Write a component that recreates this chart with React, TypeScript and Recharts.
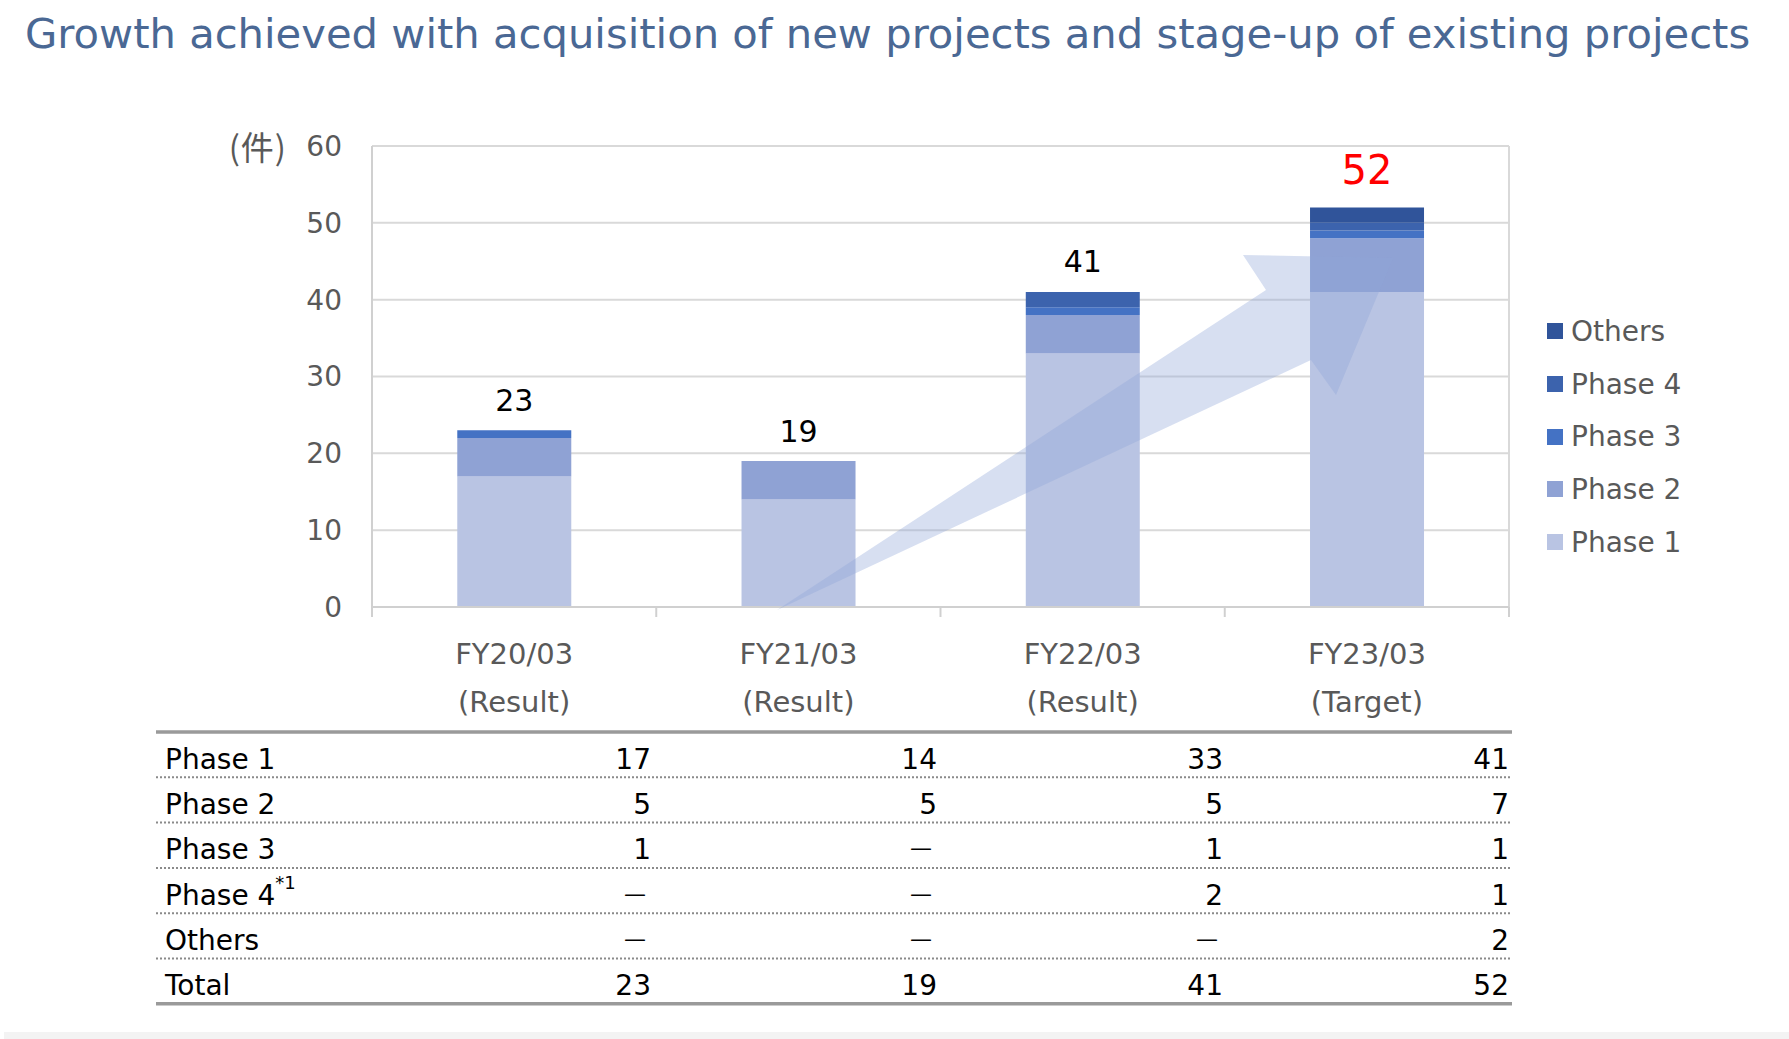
import React from 'react';
import { BarChart, Bar, XAxis, YAxis, CartesianGrid, Legend, LabelList } from 'recharts';

// ---------- data ----------
const categories = ['FY20/03', 'FY21/03', 'FY22/03', 'FY23/03'];
const periodLabels = ['(Result)', '(Result)', '(Result)', '(Target)'];
const phase1 = [17, 14, 33, 41];
const phase2 = [5, 5, 5, 7];
const phase3 = [1, 0, 1, 1];
const phase4 = [0, 0, 2, 1];
const others = [0, 0, 0, 2];
const totals = [23, 19, 41, 52];
const yTicks = [0, 10, 20, 30, 40, 50, 60];

const series = [
  { key: 'phase1', name: 'Phase 1', values: phase1, color: '#b9c4e3' },
  { key: 'phase2', name: 'Phase 2', values: phase2, color: '#8fa2d4' },
  { key: 'phase3', name: 'Phase 3', values: phase3, color: '#4472c4' },
  { key: 'phase4', name: 'Phase 4', values: phase4, color: '#3c63ad' },
  { key: 'others', name: 'Others', values: others, color: '#30549a' },
];

const tableRows = [
  { label: 'Phase 1', sup: '', values: phase1 },
  { label: 'Phase 2', sup: '', values: phase2 },
  { label: 'Phase 3', sup: '', values: phase3 },
  { label: 'Phase 4', sup: '*1', values: phase4 },
  { label: 'Others', sup: '', values: others },
  { label: 'Total', sup: '', values: totals },
];

const data = categories.map((c, i) => {
  const row: any = { category: c, period: periodLabels[i], total: totals[i] };
  series.forEach((s) => (row[s.key] = s.values[i]));
  return row;
});

// topmost non-empty series per category (where the total label sits)
const topSeriesIndex = categories.map((_, i) => {
  let top = 0;
  series.forEach((s, k) => {
    if (s.values[i] > 0) top = k;
  });
  return top;
});

// ---------- layout ----------
const W = 1789;
const H = 1039;
const PLOT_LEFT = 372;
const PLOT_RIGHT = 1509;
const PLOT_TOP = 146;
const PLOT_BOTTOM = 607;
const BAND = (PLOT_RIGHT - PLOT_LEFT) / categories.length;
const FONT = '"DejaVu Sans", Verdana, sans-serif';
const GRAY_TEXT = '#595959';
const AXIS_COLOR = '#d0d0d0';

const XTick = (props: any) => {
  const { x, y, payload, index } = props;
  const i = payload && payload.index != null ? payload.index : index;
  const isLast = i === categories.length - 1;
  return (
    <g>
      <line x1={x - BAND / 2} x2={x - BAND / 2} y1={y} y2={y + 10} stroke={AXIS_COLOR} strokeWidth={2} />
      {isLast && (
        <line x1={x + BAND / 2} x2={x + BAND / 2} y1={y} y2={y + 10} stroke={AXIS_COLOR} strokeWidth={2} />
      )}
      <text x={x} y={y + 47} textAnchor="middle" dominantBaseline="central" fontSize={29} fill={GRAY_TEXT} fontFamily={FONT}>
        {payload.value}
      </text>
      <text x={x} y={y + 95} textAnchor="middle" dominantBaseline="central" fontSize={29} fill={GRAY_TEXT} fontFamily={FONT}>
        {periodLabels[i]}
      </text>
    </g>
  );
};

const makeTotalLabel = (seriesIdx: number) => (props: any) => {
  const { x, y, width, value } = props;
  const i = categories.indexOf(value);
  if (i < 0 || topSeriesIndex[i] !== seriesIdx) return null;
  const last = i === categories.length - 1;
  return (
    <text
      x={Number(x) + Number(width) / 2}
      y={Number(y) - (last ? 37 : 30)}
      textAnchor="middle"
      dominantBaseline="central"
      fontSize={last ? 40 : 30}
      fill={last ? '#ff0000' : '#000000'}
      fontFamily={FONT}
    >
      {totals[i]}
    </text>
  );
};

const LegendContent = () => {
  const items = series.slice().reverse();
  return (
    <div style={{ fontFamily: FONT }}>
      {items.map((s) => (
        <div key={s.key} style={{ height: 52.7, display: 'flex', alignItems: 'center' }}>
          <div style={{ width: 16, height: 16, background: s.color, marginRight: 8, marginLeft: 7 }} />
          <span style={{ fontSize: 28, color: GRAY_TEXT }}>{s.name}</span>
        </div>
      ))}
    </div>
  );
};

// Table geometry
const TABLE_LEFT = 156;
const TABLE_RIGHT = 1512;
const TABLE_TOP = 732;
const ROW_H = 45.3;
const colRight = categories.map((_, i) => 651 + i * 286);

const Overlay = () => {
  const arrow = [
    [777, 610],
    [1266, 290],
    [1243, 255],
    [1393, 258],
    [1336, 395],
    [1311, 360],
  ]
    .map((p) => p.join(','))
    .join(' ');
  return (
    <svg width={W} height={H} style={{ position: 'absolute', left: 0, top: 0, pointerEvents: 'none' }}>
      {/* title */}
      <text x={25} y={48} fontSize={41.7} fill="#4a6894" fontFamily={FONT}>
        Growth achieved with acquisition of new projects and stage-up of existing projects
      </text>
      {/* unit */}
      <text
        x={287}
        y={146}
        textAnchor="end"
        dominantBaseline="central"
        fontSize={33}
        letterSpacing={1}
        fill={GRAY_TEXT}
        fontFamily='"Noto Sans CJK JP", sans-serif'
      >
        (件)
      </text>
      {/* growth arrow */}
      <polygon points={arrow} fill="#8fa7d9" fillOpacity={0.36} />
      {/* table */}
      <line x1={TABLE_LEFT} x2={TABLE_RIGHT} y1={TABLE_TOP} y2={TABLE_TOP} stroke="#9a9a9a" strokeWidth={3.5} />
      {tableRows.map((r, k) => {
        const cy = TABLE_TOP + (k + 0.5) * ROW_H + 4.5;
        const lineY = TABLE_TOP + (k + 1) * ROW_H;
        const isLast = k === tableRows.length - 1;
        return (
          <g key={r.label}>
            <text x={165} y={cy} dominantBaseline="central" fontSize={28} fill="#000" fontFamily={FONT}>
              {r.label}
              {r.sup && (
                <tspan fontSize={18} dy={-13}>
                  {r.sup}
                </tspan>
              )}
            </text>
            {r.values.map((v, i) =>
              v === 0 ? (
                <text
                  key={i}
                  x={colRight[i] - 5}
                  y={cy - 2}
                  textAnchor="end"
                  dominantBaseline="central"
                  fontSize={22}
                  fill="#000"
                  fontFamily={FONT}
                >
                  —
                </text>
              ) : (
                <text
                  key={i}
                  x={colRight[i]}
                  y={cy}
                  textAnchor="end"
                  dominantBaseline="central"
                  fontSize={28}
                  fill="#000"
                  fontFamily={FONT}
                >
                  {v}
                </text>
              )
            )}
            {isLast ? (
              <line x1={TABLE_LEFT} x2={TABLE_RIGHT} y1={lineY} y2={lineY} stroke="#9a9a9a" strokeWidth={3.5} />
            ) : (
              <line
                x1={TABLE_LEFT}
                x2={TABLE_RIGHT}
                y1={lineY}
                y2={lineY}
                stroke="#8a8a8a"
                strokeWidth={2}
                strokeDasharray="2 2"
              />
            )}
          </g>
        );
      })}
      {/* bottom strip */}
      <rect x={4} y={1032} width={W - 4} height={7} fill="#f3f3f3" />
    </svg>
  );
};

export default function App() {
  return (
    <div style={{ position: 'absolute', left: 0, top: 0, width: W, height: H, background: '#fff', fontFamily: FONT }}>
      <BarChart
        width={W}
        height={H}
        data={data}
        margin={{ top: PLOT_TOP, right: W - PLOT_RIGHT, bottom: 0, left: 0 }}
        barCategoryGap="30%"
      >
        <CartesianGrid
          stroke="#d9d9d9"
          strokeWidth={2}
          vertical={true}
          verticalCoordinatesGenerator={() => [PLOT_RIGHT]}
        />
        <XAxis
          dataKey="category"
          height={H - PLOT_BOTTOM}
          axisLine={{ stroke: AXIS_COLOR, strokeWidth: 2 }}
          tickLine={false}
          tickSize={0}
          tickMargin={0}
          interval={0}
          tick={<XTick />}
        />
        <YAxis
          width={PLOT_LEFT}
          domain={[0, 60]}
          ticks={yTicks}
          interval={0}
          axisLine={{ stroke: AXIS_COLOR, strokeWidth: 2 }}
          tickLine={false}
          tickSize={0}
          tickMargin={30}
          tick={{ fontSize: 28, fill: GRAY_TEXT, fontFamily: FONT }}
        />
        <Legend
          layout="vertical"
          align="center"
          verticalAlign="middle"
          content={<LegendContent />}
          wrapperStyle={{ position: 'absolute', left: 1540, top: 305, width: 240, height: 270 }}
        />
        {series.map((s, idx) => (
          <Bar key={s.key} dataKey={s.key} name={s.name} stackId="a" fill={s.color} isAnimationActive={false}>
            <LabelList dataKey="category" content={makeTotalLabel(idx)} />
          </Bar>
        ))}
      </BarChart>
      <Overlay />
    </div>
  );
}
